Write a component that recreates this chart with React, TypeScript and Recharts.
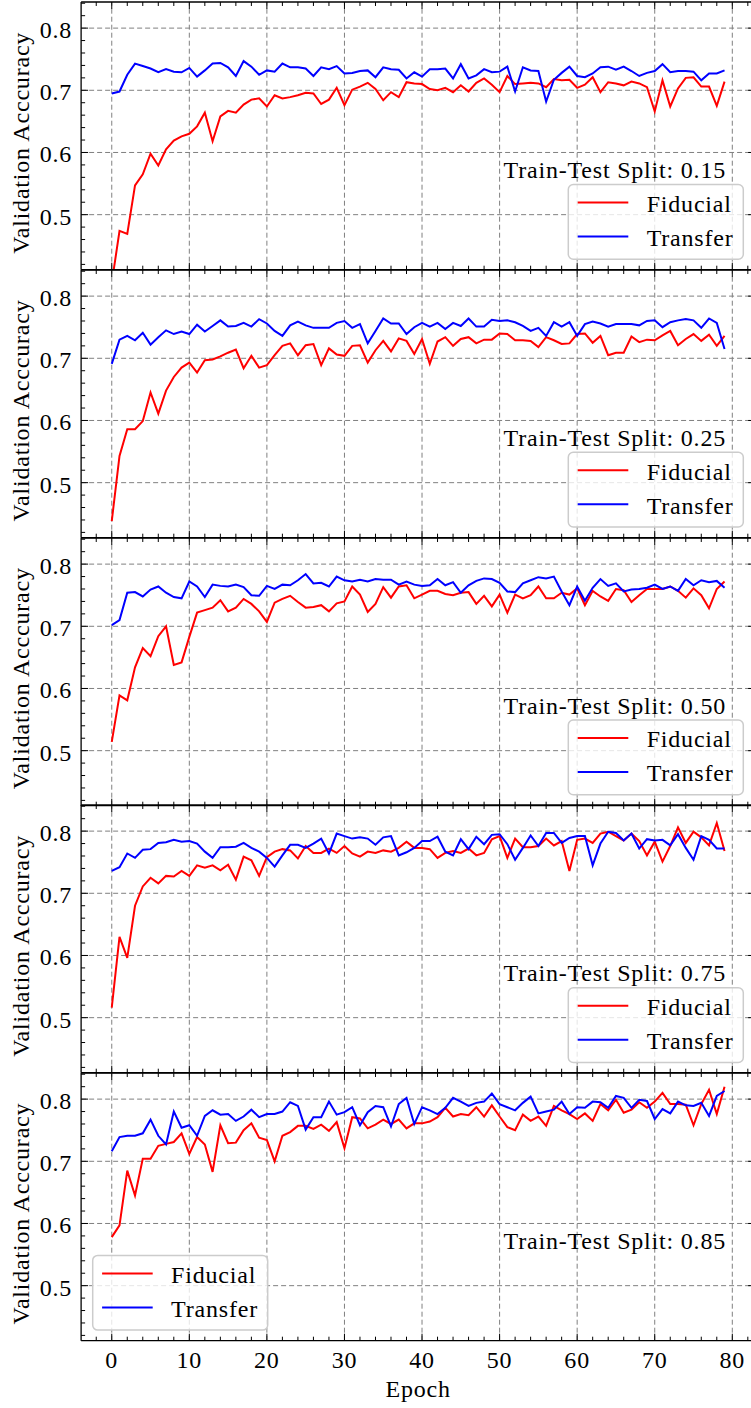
import React from 'react';
import { LineChart, Line, XAxis, YAxis, ReferenceLine } from 'recharts';

// validation accuracy per epoch
const FIDUCIAL_015 = [
  0.390, 0.474, 0.469, 0.547, 0.565, 0.598, 0.579, 0.605, 0.619, 0.626,
  0.630, 0.642, 0.664, 0.618, 0.658, 0.667, 0.664, 0.677, 0.685, 0.687,
  0.674, 0.692, 0.687, 0.689, 0.692, 0.696, 0.695, 0.678, 0.685, 0.704,
  0.676, 0.701, 0.706, 0.712, 0.702, 0.684, 0.697, 0.689, 0.713, 0.711,
  0.710, 0.702, 0.700, 0.704, 0.697, 0.708, 0.698, 0.712, 0.719, 0.709,
  0.697, 0.723, 0.710, 0.711, 0.712, 0.711, 0.705, 0.718, 0.716, 0.717,
  0.704, 0.709, 0.721, 0.697, 0.713, 0.711, 0.708, 0.714, 0.711, 0.705,
  0.666, 0.716, 0.674, 0.703, 0.720, 0.721, 0.706, 0.706, 0.675, 0.714,
];
const TRANSFER_015 = [
  0.695, 0.698, 0.725, 0.743, 0.739, 0.735, 0.729, 0.734, 0.730, 0.729,
  0.736, 0.722, 0.732, 0.743, 0.744, 0.737, 0.723, 0.747, 0.738, 0.725,
  0.732, 0.730, 0.743, 0.737, 0.737, 0.735, 0.723, 0.737, 0.734, 0.739,
  0.727, 0.728, 0.731, 0.732, 0.721, 0.737, 0.734, 0.733, 0.719, 0.729,
  0.722, 0.734, 0.734, 0.735, 0.719, 0.742, 0.719, 0.724, 0.734, 0.729,
  0.730, 0.738, 0.698, 0.737, 0.732, 0.731, 0.682, 0.717, 0.728, 0.738,
  0.723, 0.721, 0.727, 0.737, 0.738, 0.733, 0.738, 0.731, 0.723, 0.728,
  0.731, 0.742, 0.729, 0.731, 0.731, 0.730, 0.716, 0.727, 0.727, 0.732,
];
const FIDUCIAL_025 = [
  0.438, 0.543, 0.586, 0.586, 0.599, 0.645, 0.611, 0.648, 0.670, 0.685,
  0.693, 0.677, 0.697, 0.698, 0.703, 0.709, 0.714, 0.684, 0.704, 0.685,
  0.689, 0.705, 0.720, 0.724, 0.705, 0.721, 0.723, 0.689, 0.716, 0.706,
  0.704, 0.720, 0.721, 0.693, 0.713, 0.728, 0.711, 0.732, 0.728, 0.707,
  0.731, 0.691, 0.727, 0.734, 0.720, 0.731, 0.734, 0.724, 0.730, 0.730,
  0.740, 0.739, 0.729, 0.729, 0.728, 0.718, 0.734, 0.729, 0.723, 0.724,
  0.739, 0.740, 0.725, 0.736, 0.705, 0.709, 0.709, 0.735, 0.726, 0.730,
  0.729, 0.737, 0.744, 0.721, 0.731, 0.739, 0.728, 0.738, 0.720, 0.736,
];
const TRANSFER_025 = [
  0.691, 0.730, 0.736, 0.729, 0.741, 0.722, 0.734, 0.745, 0.739, 0.743,
  0.739, 0.754, 0.743, 0.752, 0.761, 0.751, 0.752, 0.757, 0.751, 0.763,
  0.756, 0.744, 0.736, 0.753, 0.759, 0.753, 0.749, 0.749, 0.749, 0.757,
  0.760, 0.749, 0.755, 0.724, 0.744, 0.764, 0.756, 0.756, 0.739, 0.750,
  0.757, 0.751, 0.757, 0.747, 0.757, 0.752, 0.764, 0.751, 0.751, 0.762,
  0.760, 0.761, 0.758, 0.752, 0.744, 0.749, 0.736, 0.758, 0.751, 0.758,
  0.736, 0.755, 0.759, 0.756, 0.751, 0.755, 0.755, 0.755, 0.753, 0.760,
  0.761, 0.750, 0.758, 0.761, 0.763, 0.761, 0.749, 0.764, 0.757, 0.715,
];
const FIDUCIAL_050 = [
  0.514, 0.589, 0.581, 0.634, 0.665, 0.652, 0.684, 0.700, 0.638, 0.642,
  0.683, 0.722, 0.726, 0.730, 0.742, 0.724, 0.730, 0.744, 0.736, 0.724,
  0.707, 0.738, 0.744, 0.749, 0.739, 0.730, 0.731, 0.734, 0.724, 0.737,
  0.740, 0.764, 0.751, 0.723, 0.736, 0.763, 0.746, 0.764, 0.766, 0.745,
  0.751, 0.757, 0.757, 0.752, 0.750, 0.754, 0.755, 0.736, 0.749, 0.732,
  0.751, 0.722, 0.751, 0.745, 0.750, 0.764, 0.745, 0.745, 0.754, 0.751,
  0.761, 0.734, 0.757, 0.748, 0.741, 0.760, 0.758, 0.739, 0.750, 0.760,
  0.760, 0.760, 0.764, 0.757, 0.746, 0.761, 0.750, 0.729, 0.760, 0.772,
];
const TRANSFER_050 = [
  0.702, 0.710, 0.754, 0.755, 0.748, 0.759, 0.764, 0.754, 0.747, 0.745,
  0.772, 0.764, 0.747, 0.767, 0.765, 0.764, 0.767, 0.763, 0.750, 0.749,
  0.765, 0.760, 0.767, 0.766, 0.774, 0.784, 0.769, 0.770, 0.764, 0.780,
  0.774, 0.772, 0.775, 0.772, 0.776, 0.775, 0.775, 0.767, 0.772, 0.767,
  0.765, 0.766, 0.776, 0.766, 0.771, 0.754, 0.766, 0.773, 0.777, 0.776,
  0.770, 0.756, 0.755, 0.769, 0.774, 0.779, 0.777, 0.780, 0.756, 0.734,
  0.764, 0.741, 0.762, 0.776, 0.765, 0.769, 0.756, 0.759, 0.760, 0.762,
  0.767, 0.760, 0.764, 0.757, 0.776, 0.766, 0.774, 0.771, 0.773, 0.762,
];
const FIDUCIAL_075 = [
  0.516, 0.630, 0.596, 0.680, 0.711, 0.725, 0.716, 0.728, 0.727, 0.736,
  0.728, 0.745, 0.741, 0.745, 0.737, 0.746, 0.722, 0.759, 0.753, 0.728,
  0.758, 0.767, 0.771, 0.769, 0.756, 0.776, 0.765, 0.765, 0.772, 0.765,
  0.776, 0.764, 0.759, 0.767, 0.765, 0.769, 0.767, 0.773, 0.783, 0.773,
  0.773, 0.771, 0.757, 0.765, 0.768, 0.765, 0.772, 0.761, 0.765, 0.787,
  0.792, 0.757, 0.788, 0.774, 0.774, 0.776, 0.788, 0.777, 0.784, 0.736,
  0.786, 0.788, 0.781, 0.796, 0.799, 0.792, 0.785, 0.796, 0.784, 0.761,
  0.783, 0.751, 0.776, 0.806, 0.781, 0.799, 0.790, 0.777, 0.813, 0.768,
];
const TRANSFER_075 = [
  0.736, 0.742, 0.764, 0.757, 0.770, 0.771, 0.781, 0.782, 0.786, 0.783,
  0.784, 0.780, 0.767, 0.757, 0.774, 0.774, 0.775, 0.781, 0.773, 0.767,
  0.757, 0.743, 0.761, 0.778, 0.778, 0.773, 0.780, 0.788, 0.764, 0.796,
  0.792, 0.788, 0.790, 0.788, 0.778, 0.790, 0.792, 0.761, 0.766, 0.773,
  0.784, 0.784, 0.791, 0.767, 0.761, 0.787, 0.771, 0.791, 0.779, 0.794,
  0.795, 0.779, 0.754, 0.773, 0.793, 0.776, 0.797, 0.797, 0.781, 0.789,
  0.792, 0.792, 0.745, 0.780, 0.799, 0.797, 0.785, 0.796, 0.772, 0.787,
  0.785, 0.786, 0.777, 0.795, 0.773, 0.754, 0.792, 0.786, 0.772, 0.772,
];
const FIDUCIAL_085 = [
  0.578, 0.597, 0.685, 0.645, 0.704, 0.704, 0.725, 0.728, 0.731, 0.745,
  0.712, 0.739, 0.727, 0.683, 0.758, 0.729, 0.730, 0.750, 0.761, 0.738,
  0.734, 0.700, 0.741, 0.747, 0.757, 0.757, 0.752, 0.759, 0.749, 0.763,
  0.721, 0.771, 0.769, 0.753, 0.759, 0.767, 0.760, 0.767, 0.753, 0.761,
  0.761, 0.764, 0.771, 0.786, 0.772, 0.776, 0.774, 0.787, 0.772, 0.790,
  0.772, 0.755, 0.750, 0.775, 0.765, 0.772, 0.757, 0.789, 0.782, 0.776,
  0.768, 0.777, 0.765, 0.792, 0.782, 0.799, 0.778, 0.783, 0.795, 0.786,
  0.796, 0.810, 0.792, 0.792, 0.791, 0.758, 0.792, 0.815, 0.776, 0.820,
];
const TRANSFER_085 = [
  0.716, 0.739, 0.741, 0.741, 0.745, 0.767, 0.741, 0.727, 0.780, 0.754,
  0.758, 0.741, 0.773, 0.782, 0.775, 0.776, 0.765, 0.772, 0.783, 0.771,
  0.776, 0.776, 0.780, 0.795, 0.789, 0.751, 0.771, 0.771, 0.796, 0.775,
  0.779, 0.787, 0.758, 0.779, 0.789, 0.787, 0.756, 0.792, 0.802, 0.760,
  0.787, 0.782, 0.776, 0.786, 0.802, 0.796, 0.789, 0.794, 0.796, 0.809,
  0.792, 0.787, 0.782, 0.794, 0.804, 0.777, 0.780, 0.783, 0.796, 0.776,
  0.787, 0.786, 0.796, 0.795, 0.786, 0.805, 0.802, 0.786, 0.799, 0.797,
  0.768, 0.784, 0.777, 0.796, 0.790, 0.789, 0.794, 0.773, 0.805, 0.813,
];

const SPLITS = ['0.15', '0.25', '0.50', '0.75', '0.85'];

const X_TICKS = [-2, 0, 2, 4, 6, 8, 10, 12, 14, 16, 18, 20, 22, 24, 26, 28, 30, 32, 34, 36, 38, 40,
  42, 44, 46, 48, 50, 52, 54, 56, 58, 60, 62, 64, 66, 68, 70, 72, 74, 76, 78, 80, 82];
const X_GRID = [0, 10, 20, 30, 40, 50, 60, 70, 80];
const Y_TICKS = [0.42, 0.44, 0.46, 0.48, 0.5, 0.52, 0.54, 0.56, 0.58, 0.6, 0.62, 0.64, 0.66, 0.68,
  0.7, 0.72, 0.74, 0.76, 0.78, 0.8, 0.82, 0.84];
const Y_GRID = [0.5, 0.6, 0.7, 0.8];

const X_DOMAIN = [-3.95, 82.95];
const Y_DOMAIN = [0.4115, 0.842];

const FONT = '"Liberation Serif", "Times New Roman", serif';
const FONT_SIZE = 24;
const SPACING = '0.8px';

const RED = '#ff0000';
const BLUE = '#0000ff';

const PANEL_H = 267.7;
const FIRST_TOP = 2.3;
const EDGE = 4; // size of the top / bottom axis strips (zero-size axes are not drawn)
const LEFT_W = 20;
const RIGHT_W = 2;
const CHART_W = 760;
const PLOT_LEFT = 81.1;
const PLOT_RIGHT = 755.2;
const AXIS_H = 66;

const panels = [
  { split: SPLITS[0], fiducial: FIDUCIAL_015, transfer: TRANSFER_015, legendLeft: false },
  { split: SPLITS[1], fiducial: FIDUCIAL_025, transfer: TRANSFER_025, legendLeft: false },
  { split: SPLITS[2], fiducial: FIDUCIAL_050, transfer: TRANSFER_050, legendLeft: false },
  { split: SPLITS[3], fiducial: FIDUCIAL_075, transfer: TRANSFER_075, legendLeft: false },
  { split: SPLITS[4], fiducial: FIDUCIAL_085, transfer: TRANSFER_085, legendLeft: true },
];

const textStyle = { fontFamily: FONT, fontSize: FONT_SIZE, letterSpacing: SPACING };
const spine = { stroke: '#000', strokeWidth: 1.3 };

const isMajorX = (v: number) => v % 10 === 0;
const isMajorY = (v: number) => Math.round(v * 100) % 10 === 0;

function BottomTick(props: any) {
  const { x, y, payload, showLabel } = props;
  const v = payload.value;
  const major = isMajorX(v);
  return (
    <g>
      <line x1={x} x2={x} y1={y} y2={y - (major ? 7 : 4)} stroke="#000" strokeWidth={1} />
      {showLabel && major ? (
        <text x={x} y={y + 27} textAnchor="middle" fill="#000" style={textStyle}>
          {v}
        </text>
      ) : null}
    </g>
  );
}

function TopTick(props: any) {
  const { x, y, payload } = props;
  const len = isMajorX(payload.value) ? 7 : 4;
  return <line x1={x} x2={x} y1={y} y2={y + len} stroke="#000" strokeWidth={1} />;
}

function LeftTick(props: any) {
  const { x, y, payload } = props;
  const v = payload.value;
  const major = isMajorY(v);
  return (
    <g>
      <line x1={x} x2={x + (major ? 7 : 4)} y1={y} y2={y} stroke="#000" strokeWidth={1} />
      {major ? (
        <text x={x - 9} y={y + 10} textAnchor="end" fill="#000" style={textStyle}>
          {v.toFixed(1)}
        </text>
      ) : null}
    </g>
  );
}

function RightTick(props: any) {
  const { x, y, payload } = props;
  const len = isMajorY(payload.value) ? 7 : 4;
  return <line x1={x} x2={x - len} y1={y} y2={y} stroke="#000" strokeWidth={1} />;
}

function Panel({ index }: { index: number }) {
  const p = panels[index];
  const last = index === panels.length - 1;
  const rows = p.fiducial.map((f, i) => ({ epoch: i, fiducial: f, transfer: p.transfer[i] }));
  const bottomH = last ? AXIS_H : EDGE;
  const top = FIRST_TOP + index * PANEL_H - EDGE;
  const height = EDGE + PANEL_H + bottomH;

  return (
    <div style={{ position: 'absolute', left: 0, top }}>
      <LineChart
        width={CHART_W}
        height={height}
        data={rows}
        margin={{ top: 0, right: CHART_W - PLOT_RIGHT - RIGHT_W, bottom: 0, left: PLOT_LEFT - LEFT_W }}
      >
        <XAxis
          dataKey="epoch"
          type="number"
          domain={X_DOMAIN}
          allowDataOverflow
          ticks={X_TICKS}
          interval={0}
          height={bottomH}
          tickSize={0}
          tickMargin={0}
          tickLine={false}
          axisLine={spine}
          tick={(t: any) => <BottomTick {...t} showLabel={last} />}
          label={last ? { value: 'Epoch', position: 'insideBottom', offset: 10, fill: '#000', style: textStyle } : undefined}
        />
        <XAxis
          xAxisId="top"
          orientation="top"
          dataKey="epoch"
          type="number"
          domain={X_DOMAIN}
          allowDataOverflow
          ticks={X_TICKS}
          interval={0}
          height={EDGE}
          tickSize={0}
          tickMargin={0}
          tickLine={false}
          axisLine={spine}
          tick={(t: any) => <TopTick {...t} />}
        />
        <YAxis
          type="number"
          domain={Y_DOMAIN}
          allowDataOverflow
          ticks={Y_TICKS}
          interval={0}
          width={LEFT_W}
          tickSize={0}
          tickMargin={0}
          tickLine={false}
          axisLine={spine}
          tick={(t: any) => <LeftTick {...t} />}
        />
        <YAxis
          yAxisId="right"
          orientation="right"
          type="number"
          domain={Y_DOMAIN}
          allowDataOverflow
          ticks={Y_TICKS}
          interval={0}
          width={RIGHT_W}
          tickSize={0}
          tickMargin={0}
          tickLine={false}
          axisLine={spine}
          tick={(t: any) => <RightTick {...t} />}
        />
        {X_GRID.map((v) => (
          <ReferenceLine key={`gx-${v}`} x={v} stroke="#808080" strokeWidth={1} strokeDasharray="5 3" />
        ))}
        {Y_GRID.map((v) => (
          <ReferenceLine key={`gy-${v}`} y={v} stroke="#808080" strokeWidth={1} strokeDasharray="5 3" />
        ))}
        <Line
          type="linear"
          dataKey="fiducial"
          name="Fiducial"
          stroke={RED}
          strokeWidth={2}
          dot={false}
          isAnimationActive={false}
        />
        <Line
          type="linear"
          dataKey="transfer"
          name="Transfer"
          stroke={BLUE}
          strokeWidth={2}
          dot={false}
          isAnimationActive={false}
        />
      </LineChart>
    </div>
  );
}

// legend box, split annotation and y label drawn over each panel
function Overlay() {
  const series = [
    { name: 'Fiducial', color: RED },
    { name: 'Transfer', color: BLUE },
  ];
  return (
    <svg width={751} height={1408} style={{ position: 'absolute', left: 0, top: 0, pointerEvents: 'none' }}>
      {panels.map((p, i) => {
        const top = FIRST_TOP + i * PANEL_H;
        const bx = p.legendLeft ? 92.7 : 568.3;
        const by = top + 182.3;
        const cy = top + 140.5;
        return (
          <g key={p.split}>
            <text x={29} y={cy} textAnchor="middle" transform={`rotate(-90, 29, ${cy})`} fill="#000" style={textStyle}>
              Validation Acccuracy
            </text>
            <text x={726} y={top + 176} textAnchor="end" fill="#000" style={textStyle}>
              {`Train-Test Split: ${p.split}`}
            </text>
            <rect x={bx} y={by} width={175} height={74.7} rx={5} fill="#fff" fillOpacity={0.8} stroke="#cccccc" strokeWidth={1.5} />
            {series.map((s, k) => (
              <g key={s.name}>
                <line x1={bx + 9.4} x2={bx + 60} y1={by + 18 + 34 * k} y2={by + 18 + 34 * k} stroke={s.color} strokeWidth={2} />
                <text x={bx + 78.4} y={by + 27.4 + 34 * k} fill="#000" style={textStyle}>
                  {s.name}
                </text>
              </g>
            ))}
          </g>
        );
      })}
    </svg>
  );
}

export default function App() {
  return (
    <div style={{ position: 'absolute', left: 0, top: 0, width: 751, height: 1408, overflow: 'hidden', background: '#fff' }}>
      {panels.map((p, i) => (
        <Panel key={p.split} index={i} />
      ))}
      <Overlay />
    </div>
  );
}
